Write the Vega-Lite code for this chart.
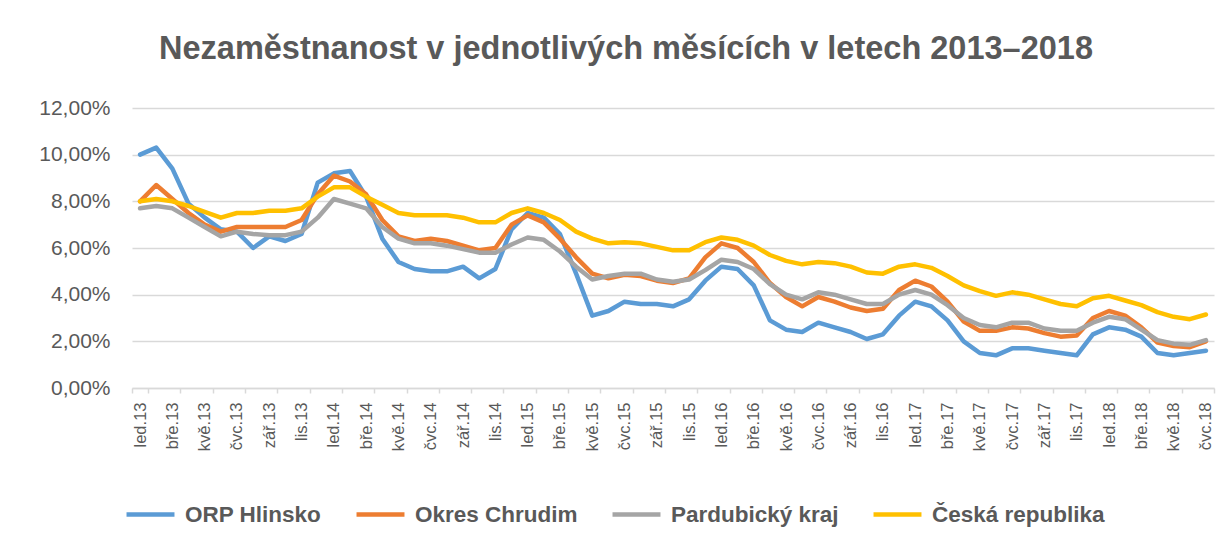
{
  "$schema": "https://vega.github.io/schema/vega-lite/v6.json",
  "width": 1082,
  "height": 280,
  "autosize": {"type": "none"},
  "padding": {"left": 132, "top": 108, "right": 17, "bottom": 158},
  "background": "white",
  "title": {
    "text": "Nezaměstnanost v jednotlivých měsících v letech 2013–2018",
    "font": "Liberation Sans",
    "fontSize": 32.5,
    "fontWeight": "bold",
    "color": "#595959",
    "anchor": "middle",
    "dx": -47,
    "offset": 32
  },
  "data": {
    "values": [
      {"m": "led.13", "ORP Hlinsko": 10.0, "Okres Chrudim": 8.0, "Pardubický kraj": 7.7, "Česká republika": 8.0},
      {"m": "úno.13", "ORP Hlinsko": 10.3, "Okres Chrudim": 8.7, "Pardubický kraj": 7.8, "Česká republika": 8.1},
      {"m": "bře.13", "ORP Hlinsko": 9.4, "Okres Chrudim": 8.1, "Pardubický kraj": 7.7, "Česká republika": 8.0},
      {"m": "dub.13", "ORP Hlinsko": 7.9, "Okres Chrudim": 7.5, "Pardubický kraj": 7.3, "Česká republika": 7.8},
      {"m": "kvě.13", "ORP Hlinsko": 7.3, "Okres Chrudim": 7.0, "Pardubický kraj": 6.9, "Česká republika": 7.55},
      {"m": "čvn.13", "ORP Hlinsko": 6.8, "Okres Chrudim": 6.7, "Pardubický kraj": 6.5, "Česká republika": 7.3},
      {"m": "čvc.13", "ORP Hlinsko": 6.7, "Okres Chrudim": 6.9, "Pardubický kraj": 6.7, "Česká republika": 7.5},
      {"m": "srp.13", "ORP Hlinsko": 6.0, "Okres Chrudim": 6.9, "Pardubický kraj": 6.6, "Česká republika": 7.5},
      {"m": "zář.13", "ORP Hlinsko": 6.5, "Okres Chrudim": 6.9, "Pardubický kraj": 6.55, "Česká republika": 7.6},
      {"m": "říj.13", "ORP Hlinsko": 6.3, "Okres Chrudim": 6.9, "Pardubický kraj": 6.55, "Česká republika": 7.6},
      {"m": "lis.13", "ORP Hlinsko": 6.6, "Okres Chrudim": 7.2, "Pardubický kraj": 6.7, "Česká republika": 7.7},
      {"m": "pro.13", "ORP Hlinsko": 8.8, "Okres Chrudim": 8.3, "Pardubický kraj": 7.3, "Česká republika": 8.2},
      {"m": "led.14", "ORP Hlinsko": 9.2, "Okres Chrudim": 9.1, "Pardubický kraj": 8.1, "Česká republika": 8.6},
      {"m": "úno.14", "ORP Hlinsko": 9.3, "Okres Chrudim": 8.85, "Pardubický kraj": 7.9, "Česká republika": 8.6},
      {"m": "bře.14", "ORP Hlinsko": 8.2, "Okres Chrudim": 8.3, "Pardubický kraj": 7.7, "Česká republika": 8.2},
      {"m": "dub.14", "ORP Hlinsko": 6.4, "Okres Chrudim": 7.2, "Pardubický kraj": 6.9, "Česká republika": 7.85},
      {"m": "kvě.14", "ORP Hlinsko": 5.4, "Okres Chrudim": 6.5, "Pardubický kraj": 6.4, "Česká republika": 7.5},
      {"m": "čvn.14", "ORP Hlinsko": 5.1, "Okres Chrudim": 6.3, "Pardubický kraj": 6.2, "Česká republika": 7.4},
      {"m": "čvc.14", "ORP Hlinsko": 5.0, "Okres Chrudim": 6.4, "Pardubický kraj": 6.2, "Česká republika": 7.4},
      {"m": "srp.14", "ORP Hlinsko": 5.0, "Okres Chrudim": 6.3, "Pardubický kraj": 6.1, "Česká republika": 7.4},
      {"m": "zář.14", "ORP Hlinsko": 5.2, "Okres Chrudim": 6.1, "Pardubický kraj": 5.95, "Česká republika": 7.3},
      {"m": "říj.14", "ORP Hlinsko": 4.7, "Okres Chrudim": 5.9, "Pardubický kraj": 5.8, "Česká republika": 7.1},
      {"m": "lis.14", "ORP Hlinsko": 5.1, "Okres Chrudim": 6.0, "Pardubický kraj": 5.8, "Česká republika": 7.1},
      {"m": "pro.14", "ORP Hlinsko": 6.8, "Okres Chrudim": 7.0, "Pardubický kraj": 6.15, "Česká republika": 7.5},
      {"m": "led.15", "ORP Hlinsko": 7.5, "Okres Chrudim": 7.4, "Pardubický kraj": 6.45, "Česká republika": 7.7},
      {"m": "úno.15", "ORP Hlinsko": 7.3, "Okres Chrudim": 7.1, "Pardubický kraj": 6.35, "Česká republika": 7.5},
      {"m": "bře.15", "ORP Hlinsko": 6.6, "Okres Chrudim": 6.4, "Pardubický kraj": 5.85, "Česká republika": 7.2},
      {"m": "dub.15", "ORP Hlinsko": 4.9, "Okres Chrudim": 5.6, "Pardubický kraj": 5.2, "Česká republika": 6.7},
      {"m": "kvě.15", "ORP Hlinsko": 3.1, "Okres Chrudim": 4.9, "Pardubický kraj": 4.65, "Česká republika": 6.4},
      {"m": "čvn.15", "ORP Hlinsko": 3.3, "Okres Chrudim": 4.7, "Pardubický kraj": 4.8, "Česká republika": 6.2},
      {"m": "čvc.15", "ORP Hlinsko": 3.7, "Okres Chrudim": 4.85, "Pardubický kraj": 4.9, "Česká republika": 6.25},
      {"m": "srp.15", "ORP Hlinsko": 3.6, "Okres Chrudim": 4.8, "Pardubický kraj": 4.9, "Česká republika": 6.2},
      {"m": "zář.15", "ORP Hlinsko": 3.6, "Okres Chrudim": 4.6, "Pardubický kraj": 4.65, "Česká republika": 6.05},
      {"m": "říj.15", "ORP Hlinsko": 3.5, "Okres Chrudim": 4.5, "Pardubický kraj": 4.55, "Česká republika": 5.9},
      {"m": "lis.15", "ORP Hlinsko": 3.8, "Okres Chrudim": 4.7, "Pardubický kraj": 4.65, "Česká republika": 5.9},
      {"m": "pro.15", "ORP Hlinsko": 4.6, "Okres Chrudim": 5.6, "Pardubický kraj": 5.05, "Česká republika": 6.25},
      {"m": "led.16", "ORP Hlinsko": 5.2, "Okres Chrudim": 6.2, "Pardubický kraj": 5.5, "Česká republika": 6.45},
      {"m": "úno.16", "ORP Hlinsko": 5.1, "Okres Chrudim": 6.0, "Pardubický kraj": 5.4, "Česká republika": 6.35},
      {"m": "bře.16", "ORP Hlinsko": 4.4, "Okres Chrudim": 5.4, "Pardubický kraj": 5.1, "Česká republika": 6.1},
      {"m": "dub.16", "ORP Hlinsko": 2.9, "Okres Chrudim": 4.5, "Pardubický kraj": 4.45, "Česká republika": 5.7},
      {"m": "kvě.16", "ORP Hlinsko": 2.5, "Okres Chrudim": 3.9, "Pardubický kraj": 4.0, "Česká republika": 5.45},
      {"m": "čvn.16", "ORP Hlinsko": 2.4, "Okres Chrudim": 3.5, "Pardubický kraj": 3.8, "Česká republika": 5.3},
      {"m": "čvc.16", "ORP Hlinsko": 2.8, "Okres Chrudim": 3.9, "Pardubický kraj": 4.1, "Česká republika": 5.4},
      {"m": "srp.16", "ORP Hlinsko": 2.6, "Okres Chrudim": 3.7, "Pardubický kraj": 4.0, "Česká republika": 5.35},
      {"m": "zář.16", "ORP Hlinsko": 2.4, "Okres Chrudim": 3.45, "Pardubický kraj": 3.8, "Česká republika": 5.2},
      {"m": "říj.16", "ORP Hlinsko": 2.1, "Okres Chrudim": 3.3, "Pardubický kraj": 3.6, "Česká republika": 4.95},
      {"m": "lis.16", "ORP Hlinsko": 2.3, "Okres Chrudim": 3.4, "Pardubický kraj": 3.6, "Česká republika": 4.9},
      {"m": "pro.16", "ORP Hlinsko": 3.1, "Okres Chrudim": 4.2, "Pardubický kraj": 4.0, "Česká republika": 5.2},
      {"m": "led.17", "ORP Hlinsko": 3.7, "Okres Chrudim": 4.6, "Pardubický kraj": 4.2, "Česká republika": 5.3},
      {"m": "úno.17", "ORP Hlinsko": 3.5, "Okres Chrudim": 4.35, "Pardubický kraj": 4.0, "Česká republika": 5.15},
      {"m": "bře.17", "ORP Hlinsko": 2.9, "Okres Chrudim": 3.7, "Pardubický kraj": 3.55, "Česká republika": 4.8},
      {"m": "dub.17", "ORP Hlinsko": 2.0, "Okres Chrudim": 2.85, "Pardubický kraj": 3.0, "Česká republika": 4.4},
      {"m": "kvě.17", "ORP Hlinsko": 1.5, "Okres Chrudim": 2.45, "Pardubický kraj": 2.7, "Česká republika": 4.15},
      {"m": "čvn.17", "ORP Hlinsko": 1.4, "Okres Chrudim": 2.45, "Pardubický kraj": 2.6, "Česká republika": 3.95},
      {"m": "čvc.17", "ORP Hlinsko": 1.7, "Okres Chrudim": 2.6, "Pardubický kraj": 2.8, "Česká republika": 4.1},
      {"m": "srp.17", "ORP Hlinsko": 1.7, "Okres Chrudim": 2.55, "Pardubický kraj": 2.8, "Česká republika": 4.0},
      {"m": "zář.17", "ORP Hlinsko": 1.6, "Okres Chrudim": 2.35, "Pardubický kraj": 2.55, "Česká republika": 3.8},
      {"m": "říj.17", "ORP Hlinsko": 1.5, "Okres Chrudim": 2.2, "Pardubický kraj": 2.45, "Česká republika": 3.6},
      {"m": "lis.17", "ORP Hlinsko": 1.4, "Okres Chrudim": 2.25, "Pardubický kraj": 2.45, "Česká republika": 3.5},
      {"m": "pro.17", "ORP Hlinsko": 2.3, "Okres Chrudim": 3.0, "Pardubický kraj": 2.8, "Česká republika": 3.85},
      {"m": "led.18", "ORP Hlinsko": 2.6, "Okres Chrudim": 3.3, "Pardubický kraj": 3.05, "Česká republika": 3.95},
      {"m": "úno.18", "ORP Hlinsko": 2.5, "Okres Chrudim": 3.1, "Pardubický kraj": 2.95, "Česká republika": 3.75},
      {"m": "bře.18", "ORP Hlinsko": 2.2, "Okres Chrudim": 2.6, "Pardubický kraj": 2.5, "Česká republika": 3.55},
      {"m": "dub.18", "ORP Hlinsko": 1.5, "Okres Chrudim": 1.95, "Pardubický kraj": 2.05, "Česká republika": 3.25},
      {"m": "kvě.18", "ORP Hlinsko": 1.4, "Okres Chrudim": 1.8, "Pardubický kraj": 1.9, "Česká republika": 3.05},
      {"m": "čvn.18", "ORP Hlinsko": 1.5, "Okres Chrudim": 1.75, "Pardubický kraj": 1.85, "Česká republika": 2.95},
      {"m": "čvc.18", "ORP Hlinsko": 1.6, "Okres Chrudim": 2.0, "Pardubický kraj": 2.05, "Česká republika": 3.15}
    ]
  },
  "transform": [
    {"fold": ["ORP Hlinsko", "Okres Chrudim", "Pardubický kraj", "Česká republika"], "as": ["serie", "v"]}
  ],
  "mark": {"type": "line", "strokeWidth": 4.5, "strokeJoin": "round", "strokeCap": "round"},
  "encoding": {
    "x": {
      "field": "m",
      "type": "ordinal",
      "sort": null,
      "bandPosition": 0.5,
      "scale": {"type": "band", "paddingInner": 0, "paddingOuter": 0},
      "axis": {
        "title": null,
        "values": ["led.13","bře.13","kvě.13","čvc.13","zář.13","lis.13","led.14","bře.14","kvě.14","čvc.14","zář.14","lis.14","led.15","bře.15","kvě.15","čvc.15","zář.15","lis.15","led.16","bře.16","kvě.16","čvc.16","zář.16","lis.16","led.17","bře.17","kvě.17","čvc.17","zář.17","lis.17","led.18","bře.18","kvě.18","čvc.18"],
        "labelAngle": -90,
        "labelFont": "Liberation Sans",
        "labelFontSize": 16.5,
        "labelColor": "#595959",
        "labelPadding": 9,
        "tickBand": "extent",
        "ticks": true,
        "tickSize": 5,
        "tickColor": "#D9D9D9",
        "tickWidth": 1.5,
        "domainColor": "#D9D9D9",
        "domainWidth": 1.5,
        "grid": false
      }
    },
    "y": {
      "field": "v",
      "type": "quantitative",
      "scale": {"domain": [0, 12], "nice": false},
      "axis": {
        "title": null,
        "values": [0, 2, 4, 6, 8, 10, 12],
        "labelExpr": "replace(format(datum.value, '.2f'), '.', ',') + '%'",
        "labelFont": "Liberation Sans",
        "labelFontSize": 21,
        "labelColor": "#595959",
        "labelPadding": 22,
        "ticks": false,
        "domain": false,
        "grid": true,
        "gridColor": "#D9D9D9",
        "gridWidth": 1.5
      }
    },
    "color": {
      "field": "serie",
      "type": "nominal",
      "scale": {
        "domain": ["ORP Hlinsko", "Okres Chrudim", "Pardubický kraj", "Česká republika"],
        "range": ["#5B9BD5", "#ED7D31", "#A5A5A5", "#FFC000"]
      },
      "legend": {
        "title": null,
        "orient": "none",
        "direction": "horizontal",
        "legendX": -8,
        "legendY": 380,
        "symbolType": "stroke",
        "symbolStrokeWidth": 4.5,
        "symbolSize": 2300,
        "labelFont": "Liberation Sans",
        "labelFontSize": 22.5,
        "labelFontWeight": "bold",
        "labelColor": "#595959",
        "labelOffset": 8,
        "columnPadding": 25,
        "labelLimit": 300
      }
    }
  },
  "config": {"view": {"stroke": null}}
}
